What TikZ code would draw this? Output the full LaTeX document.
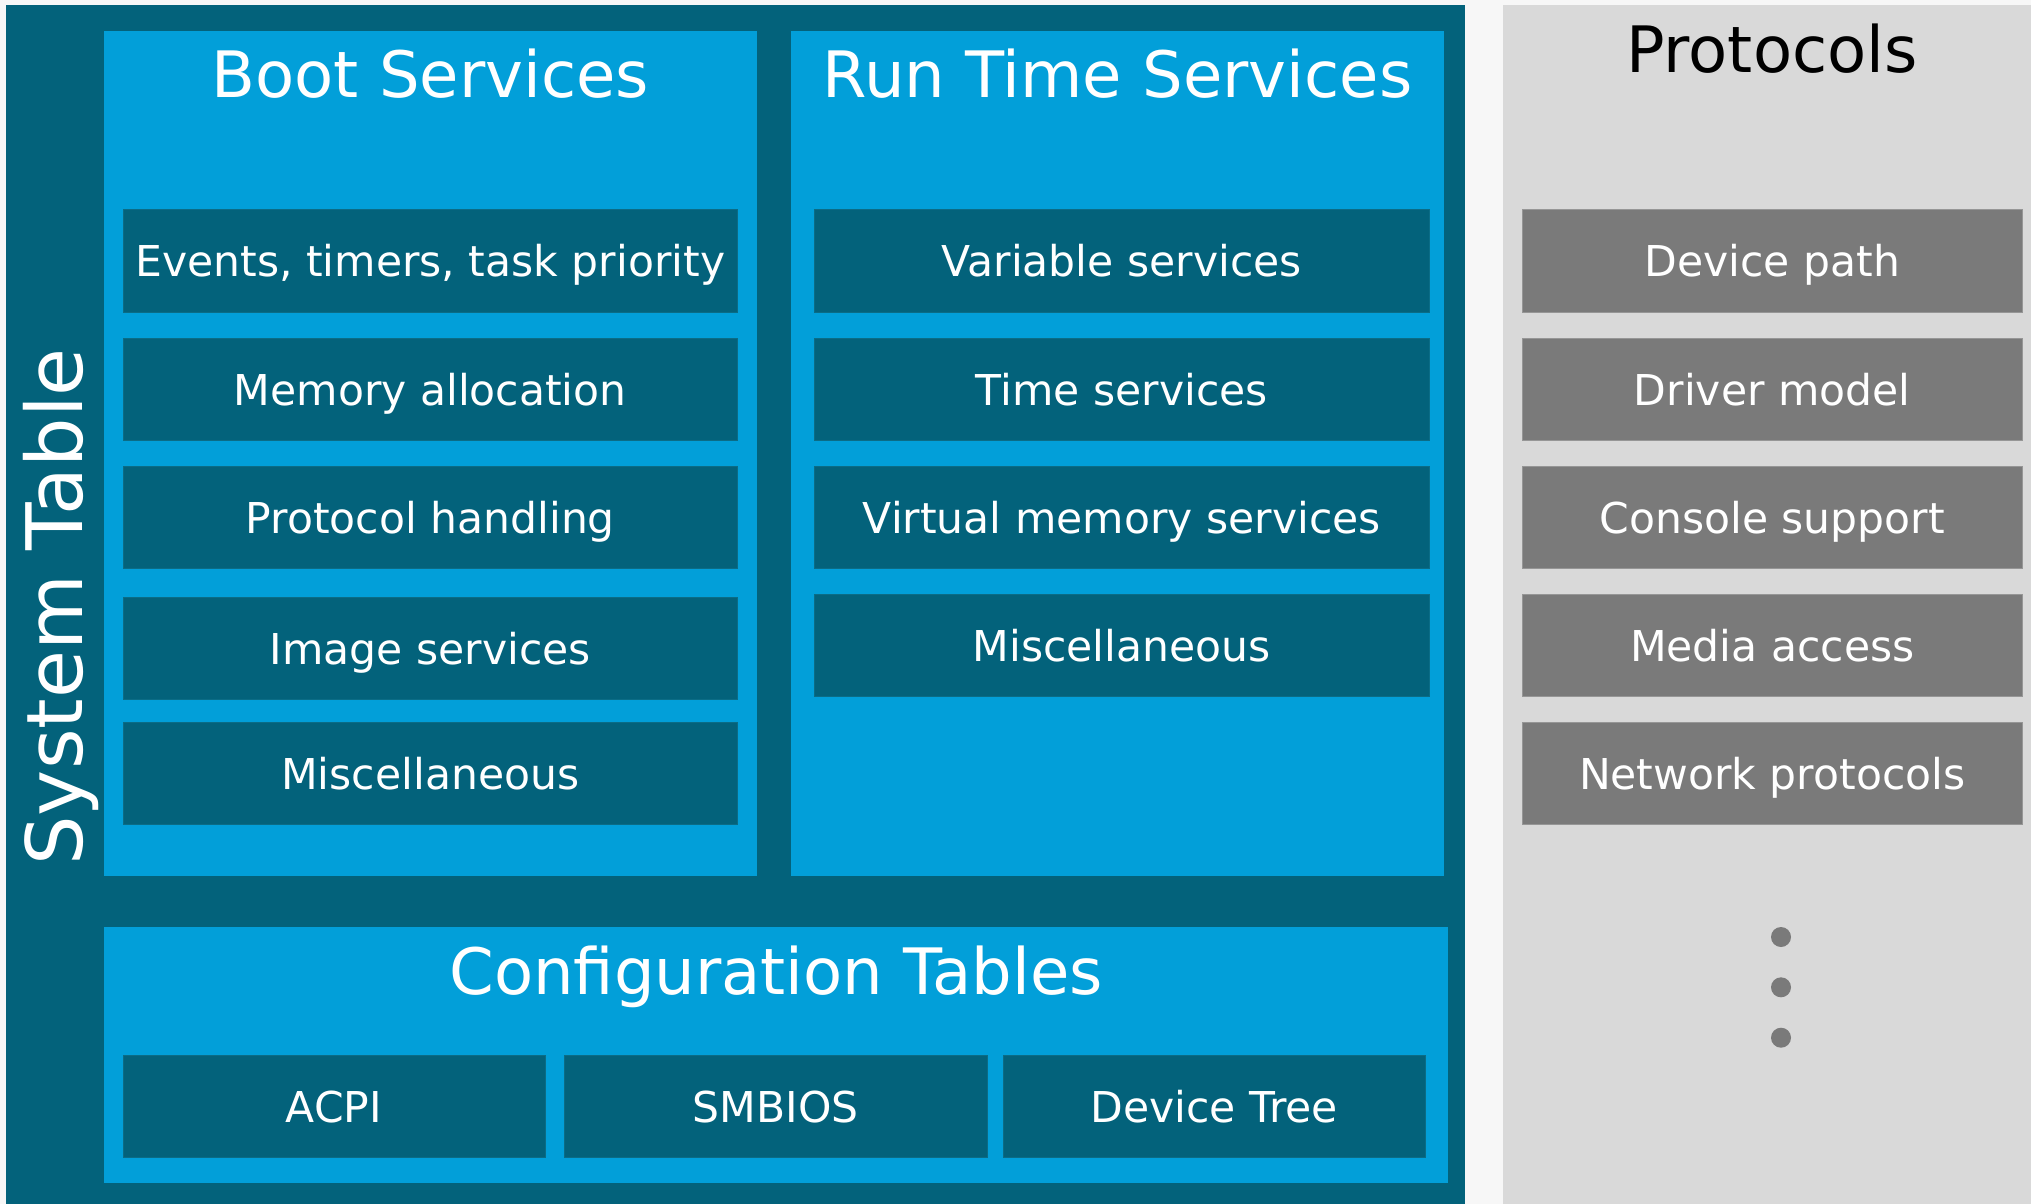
\documentclass[tikz,border=0pt]{standalone}
\usepackage{fontspec}
\setmainfont{DejaVu Sans}
\definecolor{pagebg}{HTML}{F7F7F7}
\definecolor{deepteal}{HTML}{03627B}
\definecolor{skyblue}{HTML}{029FD9}
\definecolor{panelgray}{HTML}{D9D9D9}
\definecolor{boxgray}{HTML}{7A7A7A}
\definecolor{boxgrayedge}{HTML}{969696}
\definecolor{tealedge}{HTML}{0B6C86}
\newcommand\labelfont{\fontsize{42.5}{50}\selectfont}
\newcommand\titlefont{\fontsize{64}{76}\selectfont}
\newcommand\sidefont{\fontsize{78}{94}\selectfont}
\tikzset{
  area/.style={rectangle, inner sep=0pt, outer sep=0pt, draw=none},
  tealbox/.style={area, fill=deepteal, draw=tealedge, line width=1pt, text=white,
    font=\labelfont, text height=31pt, text depth=0pt},
  graybox/.style={area, fill=boxgray, draw=boxgrayedge, line width=1pt, text=white,
    font=\labelfont, text height=31pt, text depth=0pt},
  bootrow/.style={tealbox, minimum width=614.5pt, minimum height=102.5pt},
  rtrow/.style={tealbox, minimum width=614.5pt, minimum height=102.5pt},
  protorow/.style={graybox, minimum width=499.5pt, minimum height=102.5pt},
  cfgrow/.style={tealbox, minimum width=422.5pt, minimum height=102.4pt},
  paneltitle/.style={inner sep=0pt, anchor=base, font=\titlefont, text=white},
  dot/.style={circle, fill=boxgray, inner sep=0pt, minimum size=20pt},
}
\begin{document}
\begin{tikzpicture}[x=1pt, y=-1pt]
\useasboundingbox (0,0) rectangle (2031,1204);
\fill[pagebg] (0,0) rectangle (2031,1204);

% system table frame and protocol panel
\node[area, fill=deepteal, minimum width=1459pt, minimum height=1199pt] (systab) at (735.5,604.5) {};
\node[area, fill=panelgray, minimum width=528pt, minimum height=1199pt] (protopanel) at (1767,604.5) {};

\node[inner sep=0pt, anchor=base, rotate=90, font=\sidefont, text=white] (systitle) at (82,607) {System Table};

% boot services
\node[area, fill=skyblue, minimum width=653pt, minimum height=845pt] (boot) at (430.5,453.5) {};
\node[paneltitle] (boottitle) at (430.5,98) {Boot Services};
\node[bootrow] (b1) at (430.25,261.2) {Events, timers, task priority};
\node[bootrow] (b2) at (430.25,389.5) {Memory allocation};
\node[bootrow] (b3) at (430.25,517.5) {Protocol handling};
\node[bootrow] (b4) at (430.25,648.5) {Image services};
\node[bootrow] (b5) at (430.25,773.6) {Miscellaneous};

% run time services
\node[area, fill=skyblue, minimum width=653pt, minimum height=845pt] (runtime) at (1117.5,453.5) {};
\node[paneltitle] (rttitle) at (1117.5,98) {Run Time Services};
\node[rtrow] (r1) at (1121.75,261.2) {Variable services};
\node[rtrow] (r2) at (1121.75,389.5) {Time services};
\node[rtrow] (r3) at (1121.75,517.5) {Virtual memory services};
\node[rtrow] (r4) at (1121.75,645.5) {Miscellaneous};

% configuration tables
\node[area, fill=skyblue, minimum width=1344pt, minimum height=255.7pt] (config) at (776,1055.15) {};
\node[paneltitle] (cfgtitle) at (776,994) {Configuration Tables};
\node[cfgrow, minimum width=422pt] (c1) at (334,1106.5) {ACPI};
\node[cfgrow] (c2) at (775.75,1106.5) {SMBIOS};
\node[cfgrow] (c3) at (1214.25,1106.5) {Device Tree};

% protocols
\node[paneltitle, text=black] (prototitle) at (1772,73) {Protocols};
\node[protorow] (p1) at (1772.25,261.2) {Device path};
\node[protorow] (p2) at (1772.25,389.5) {Driver model};
\node[protorow] (p3) at (1772.25,517.5) {Console support};
\node[protorow] (p4) at (1772.25,645.5) {Media access};
\node[protorow] (p5) at (1772.25,773.6) {Network protocols};

\node[dot] (d1) at (1781,937) {};
\node[dot] (d2) at (1781,987.3) {};
\node[dot] (d3) at (1781,1037.7) {};
\end{tikzpicture}
\end{document}
